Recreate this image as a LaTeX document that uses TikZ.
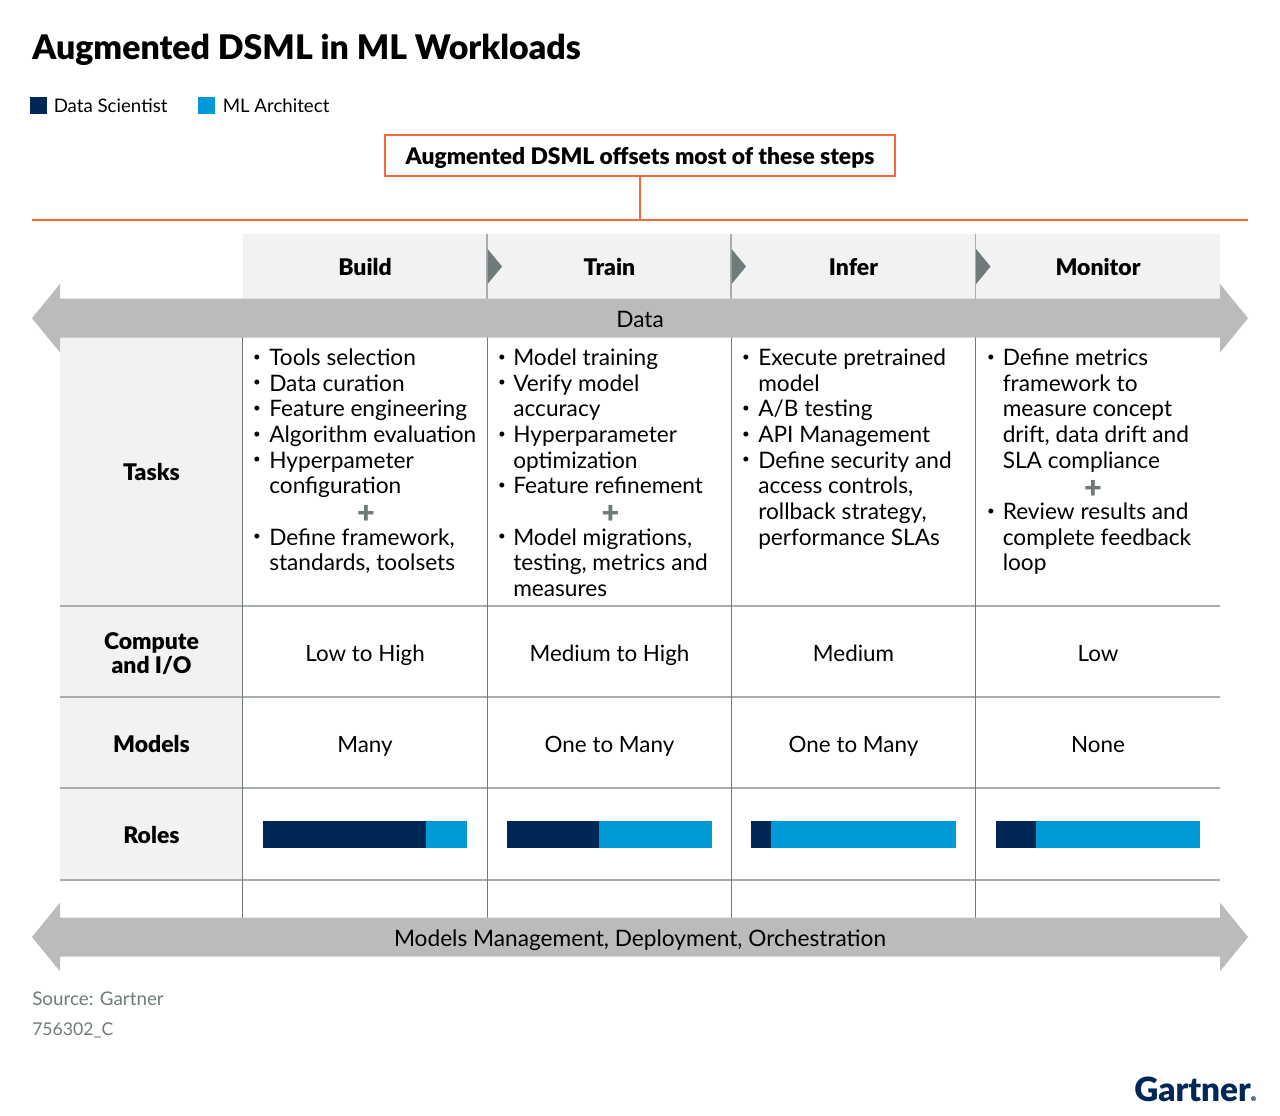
\documentclass[tikz,border=0pt]{standalone}
\usepackage{fontspec}
\setmainfont{Lato}
\newfontfamily\blk{Lato Black}
\definecolor{navy}{HTML}{002856}
\definecolor{sky}{HTML}{009AD9}
\definecolor{orng}{HTML}{F4693A}
\definecolor{pale}{HTML}{F2F2F2}
\definecolor{band}{HTML}{BBBBBB}
\definecolor{slate}{HTML}{6F7B7B}
\definecolor{rule}{HTML}{A9ADAD}
\tikzset{
  body/.style={inner sep=0pt,font=\fontsize{17}{19.25}\selectfont,text=black},
  cell/.style={body,anchor=north west,align=left},
  mid/.style={inner sep=0pt,anchor=center,text height=12.3pt,text depth=0pt,font=\fontsize{16.8}{19}\selectfont},
  lab/.style={inner sep=0pt,anchor=center,text height=12.3pt,text depth=0pt,font=\fontsize{17}{19}\selectfont},
  head/.style={inner sep=0pt,anchor=center,align=center,text height=12.3pt,text depth=0pt,font=\blk\fontsize{17.2}{18}\selectfont},
  dot/.style={inner sep=0pt,anchor=center,font=\fontsize{10}{12}\selectfont},
  plus/.style={inner sep=0pt,anchor=center,text=slate,font=\blk\fontsize{23}{23}\selectfont},
  foot/.style={inner sep=0pt,anchor=west,text=slate,text height=10pt,text depth=0pt,font=\fontsize{14.1}{16}\selectfont},
  legend/.style={inner sep=0pt,anchor=west,text height=10pt,text depth=0pt,font=\fontsize{14}{16}\selectfont},
  grid/.style={draw=rule,line width=0.9pt},
  vert/.style={draw=slate,line width=0.75pt},
  oline/.style={draw=orng,line width=1.1pt},
}
\newcommand{\bandarrow}[1]{%
  \fill[band] (32,#1) -- (60,#1-34.3) -- (60,#1-19.5) -- (1220,#1-19.5) -- (1220,#1-34.3)
    -- (1248,#1) -- (1220,#1+34.3) -- (1220,#1+19.5) -- (60,#1+19.5) -- (60,#1+34.3) -- cycle;}
\begin{document}
\begin{tikzpicture}[x=0.75pt,y=-0.75pt]
\useasboundingbox (0,0) rectangle (1280,1115);
% title and legend
\node[inner sep=0pt,anchor=west,text height=18.4pt,text depth=0pt,font=\blk\fontsize{25.4}{30}\selectfont] (title) at (32,47) {Augmented DSML in ML Workloads};
\fill[navy] (30,97) rectangle (47,114);
\fill[sky] (198,97) rectangle (215,114);
\node[legend] (lega) at (53.5,105.5) {Data Scientist};
\node[legend] (legb) at (222.5,105.5) {ML Architect};
% orange callout
\node[draw=orng,line width=1.1pt,minimum width=382.5pt,minimum height=31pt,inner sep=0pt,text height=13.8pt,text depth=0pt,font=\blk\fontsize{17.1}{18}\selectfont] (call) at (640,155.5) {Augmented DSML offsets most of these steps};
\coordinate (lineL) at (32,219);
\coordinate (lineR) at (1248,220.5);
\coordinate (lineM) at (640,219.7);
\fill[orng] (lineL) rectangle (lineR);
\draw[oline] (call.south) -- (lineM);
% backgrounds
\fill[pale] (242.5,234) rectangle (1220,300);
\fill[pale] (60,337) rectangle (242.5,880);
% grid
\foreach \y in {606,697,788,880} \draw[grid] (60,\y) -- (1220,\y);
\foreach \x in {242.5,487,731,975.5} \draw[vert] (\x,337) -- (\x,918);
\foreach \x in {487,731,975.5} {
  \draw[draw=rule,line width=0.9pt] (\x,234) -- (\x,300);
  \fill[slate] (\x+0.6,249) -- (\x+15,266.5) -- (\x+0.6,284) -- cycle;
}
% bands
\bandarrow{318.2}
\bandarrow{937}
\node[lab] (dataT) at (640,319.5) {Data};
\node[lab] (mmdT) at (640,938.5) {Models Management, Deployment, Orchestration};
% headers
\node[head] (hb) at (365,267) {Build};
\node[head] (ht) at (609.5,267) {Train};
\node[head] (hi) at (853.5,267) {Infer};
\node[head] (hm) at (1098,267) {Monitor};
% row labels
\node[head] (rt) at (151.5,472.5) {Tasks};
\node[head] (rc) at (151.5,665) {Compute\\and I/O};
\node[head] (rm) at (151.5,744) {Models};
\node[head] (rr) at (151.5,835) {Roles};
% tasks
\node[cell] (c1) at (269,348.5) {Tools selection\\Data curation\\Feature engineering\\Algorithm evaluation\\Hyperpameter\\configuration\\\mbox{}\\Define framework,\\standards, toolsets};
\node[cell] (c2) at (513,348.5) {Model training\\Verify model\\accuracy\\Hyperparameter\\optimization\\Feature refinement\\\mbox{}\\Model migrations,\\testing, metrics and\\measures};
\node[cell] (c3) at (758,348.5) {Execute pretrained\\model\\A/B testing\\API Management\\Define security and\\access controls,\\rollback strategy,\\performance SLAs};
\node[cell] (c4) at (1002.5,348.5) {Define metrics\\framework to\\measure concept\\drift, data drift and\\SLA compliance\\\mbox{}\\Review results and\\complete feedback\\loop};
\foreach \n/\x/\y in {a/257/358,b/257/383.5,c/257/409,d/257/435,e/257/460.5,f/257/537,
  g/502/358,h/502/383.5,i/502/435,j/502/486,k/502/537,
  l/746/358,m/746/409,n/746/435,o/746/460.5,
  p/991/358,q/991/512}
  \node[dot] (dot\n) at (\x,\y) {•};
\node[plus] (pl1) at (366,514) {+};
\node[plus] (pl2) at (610.5,514) {+};
\node[plus] (pl4) at (1093,489) {+};
% values
\node[mid] (v11) at (365,653.5) {Low to High};
\node[mid] (v12) at (609.5,653.5) {Medium to High};
\node[mid] (v13) at (853.5,653.5) {Medium};
\node[mid] (v14) at (1098,653.5) {Low};
\node[mid] (v21) at (365,744.5) {Many};
\node[mid] (v22) at (609.5,744.5) {One to Many};
\node[mid] (v23) at (853.5,744.5) {One to Many};
\node[mid] (v24) at (1098,744.5) {None};
% role bars
\foreach \a/\b/\c in {262.5/426/467,506.5/599/711.5,751/771/956,995.5/1036/1200} {
  \fill[navy] (\a,821) rectangle (\b,848);
  \fill[sky] (\b,821) rectangle (\c,848);
}
% footer
\node[foot] (src) at (32,998.5) {Source: Gartner};
\node[foot,font=\fontsize{13.2}{16}\selectfont] (code) at (32,1029) {756302\_C};
\node[inner sep=0pt,anchor=west,text=navy,font=\blk\fontsize{25}{30}\selectfont] (logo) at (1134,1089) {Gartner\raisebox{0pt}{\fontsize{5}{6}\selectfont ®}};
\end{tikzpicture}
\end{document}
